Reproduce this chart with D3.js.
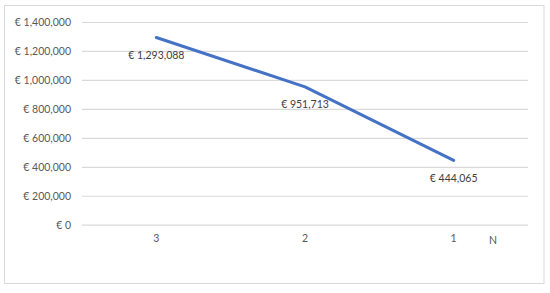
<!DOCTYPE html>
<html><head><meta charset="utf-8">
<script src="https://cdn.jsdelivr.net/npm/d3@7"></script>
<style>body{margin:0;background:#fff;}svg{display:block;}</style>
</head><body>
<script>
const categories = ["3", "2", "1"];
const values = [1293088, 951713, 444065];
const yTicks = [0, 200000, 400000, 600000, 800000, 1000000, 1200000, 1400000];
const axisTitle = "N";

(function () {
const W = 550, H = 293;
const svg = d3.select("body").append("svg").attr("width", W).attr("height", H);
const font = "Lato, 'Open Sans', sans-serif";
const fs = "10.5px";
svg.append("rect").attr("x", 4.5).attr("y", 5.5).attr("width", 539.5).attr("height", 278)
  .attr("fill", "#fff").attr("stroke", "#d9d9d9").attr("stroke-width", 1);

const pL = 82, pR = 528, pT = 22, pB = 224.7;
const x = d3.scaleBand().domain(categories).range([pL, pR]);
const y = d3.scaleLinear().domain([0, 1400000]).range([pB, pT]);
const fmt = v => "€ " + d3.format(",")(v);

const yAxis = svg.append("g").attr("transform", `translate(${pL},0)`)
  .call(d3.axisLeft(y).tickValues(yTicks).tickSize(-(pR - pL)).tickPadding(11).tickFormat(fmt));
yAxis.select(".domain").remove();
yAxis.selectAll(".tick line").attr("stroke", "#d9d9d9").attr("stroke-width", 1.2);
yAxis.selectAll(".tick text").attr("fill", "#595959").style("font-family", font).style("font-size", fs);

const xAxis = svg.append("g").attr("transform", `translate(0,${pB})`)
  .call(d3.axisBottom(x).tickSize(0).tickPadding(10));
xAxis.select(".domain").remove();
xAxis.selectAll(".tick text").attr("fill", "#595959").style("font-family", font).style("font-size", fs);

svg.append("text").attr("x", 493).attr("y", pB + 19.5).attr("text-anchor", "middle")
  .attr("fill", "#595959").style("font-family", font).style("font-size", fs).text(axisTitle);

const line = d3.line().x((d, i) => x(categories[i]) + x.bandwidth() / 2).y(d => y(d));
svg.append("path").datum(values).attr("d", line).attr("fill", "none")
  .attr("stroke", "#4472C4").attr("stroke-width", 3).attr("stroke-linecap", "round").attr("stroke-linejoin", "round");

svg.selectAll(".lbl").data(values).enter().append("text")
  .attr("x", (d, i) => x(categories[i]) + x.bandwidth() / 2)
  .attr("y", d => y(d) + 21.5)
  .attr("text-anchor", "middle").attr("fill", "#404040")
  .style("font-family", font).style("font-size", fs).text(fmt);
})();
</script>
</body></html>
